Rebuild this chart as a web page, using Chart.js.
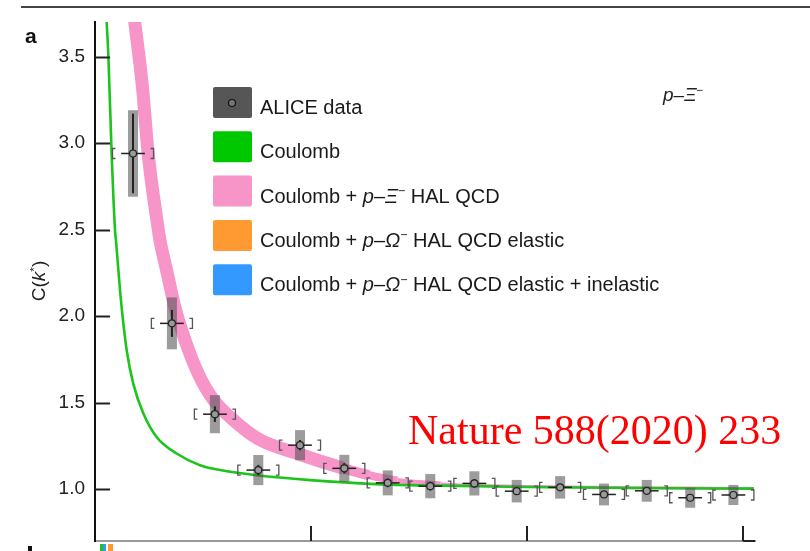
<!DOCTYPE html>
<html>
<head>
<meta charset="utf-8">
<script src="https://cdn.jsdelivr.net/npm/chart.js@4.4.0/dist/chart.umd.min.js"></script>
<style>
  html, body { margin: 0; padding: 0; background: #fff; }
  #wrap { width: 810px; height: 551px; position: relative; }
</style>
</head>
<body>
<div id="wrap"><canvas id="cf" width="810" height="551"></canvas></div>
<script>
// p-Xi- correlation function C(k*), k* in MeV/c
const kStar   = [17.6, 35.6, 55.5, 75.6, 94.9, 115.4, 135.5, 155.2, 175.6, 195.2, 215.3, 235.6, 255.4, 275.5, 295.5];
const cData   = [2.94, 1.958, 1.433, 1.11, 1.254, 1.12, 1.036, 1.017, 1.033, 0.988, 1.01, 0.969, 0.99, 0.95, 0.966];
const statErr = [0.23, 0.078, 0.045, 0.03, 0.03, 0.03, 0.025, 0.025, 0.025, 0.02, 0.02, 0.02, 0.02, 0.02, 0.02];
const sysErr  = [0.25, 0.15, 0.11, 0.087, 0.087, 0.078, 0.072, 0.07, 0.07, 0.065, 0.065, 0.063, 0.063, 0.058, 0.058];

// Coulomb only (green line)
const coulombK = [5.3, 6.2, 7.7, 9.3, 9.7, 11.6, 12.8, 14.7, 17.7, 22.4, 28.6, 37.8, 48.6, 57.9, 74.8, 99.5, 130, 160, 200, 250, 305];
const coulombC = [3.72, 3.50, 2.94, 2.49, 2.437, 2.148, 1.994, 1.80, 1.61, 1.437, 1.30, 1.206, 1.138, 1.11, 1.08, 1.052, 1.029, 1.02, 1.012, 1.006, 1.003];

// Coulomb + p-Xi- HAL QCD (pink band, centre)
const halK = [18.2, 22, 24.6, 28.7, 30.1, 33.5, 37, 41.7, 47.8, 54.6, 64, 75.6, 95, 115, 127, 140, 160, 200, 250, 305];
const halC = [3.72, 3.32, 2.94, 2.55, 2.437, 2.245, 2.05, 1.86, 1.667, 1.52, 1.40, 1.29, 1.20, 1.12, 1.08, 1.05, 1.03, 1.015, 1.008, 1.004];

const yTicks = [1.0, 1.5, 2.0, 2.5, 3.0, 3.5];
const xTicks = [100, 200, 300];

const FONT = '"Liberation Sans", Arial, Helvetica, sans-serif';
const GREEN = '#1cc41c';
const PINK = '#f794c8';
const ORANGE = '#ff9a33';
const BLUE = '#3399ff';

const legendItems = [
  { color: '#565656', marker: true, runs: [{ t: 'ALICE data' }] },
  { color: '#00c800', runs: [{ t: 'Coulomb' }] },
  { color: PINK, runs: [{ t: 'Coulomb + ' }, { t: 'p', i: 1 }, { t: '–' }, { t: 'Ξ', i: 1 }, { t: '−', s: 1 }, { t: ' HAL QCD' }] },
  { color: ORANGE, runs: [{ t: 'Coulomb + ' }, { t: 'p', i: 1 }, { t: '–' }, { t: 'Ω', i: 1 }, { t: '−', s: 1 }, { t: ' HAL QCD elastic' }] },
  { color: BLUE, runs: [{ t: 'Coulomb + ' }, { t: 'p', i: 1 }, { t: '–' }, { t: 'Ω', i: 1 }, { t: '−', s: 1 }, { t: ' HAL QCD elastic + inelastic' }] }
];

function drawRuns(ctx, runs, x, y, size) {
  runs.forEach(r => {
    const sz = r.s ? size * 0.62 : size;
    ctx.font = (r.i ? 'italic ' : '') + sz + 'px ' + FONT;
    ctx.fillText(r.t, x, r.s ? y - size * 0.38 : y);
    x += ctx.measureText(r.t).width;
  });
  return x;
}

// error boxes, brackets and bars under the data markers
const errorBars = {
  id: 'errorBars',
  beforeDatasetDraw(chart, args) {
    if (args.index !== 2) return;
    const { ctx, scales: { x, y } } = chart;
    ctx.save();
    kStar.forEach((k, i) => {
      const px = x.getPixelForValue(k);
      const py = y.getPixelForValue(cData[i]);
      // systematic box
      ctx.fillStyle = 'rgba(85,85,85,0.58)';
      const t = y.getPixelForValue(cData[i] + sysErr[i]);
      const b = y.getPixelForValue(cData[i] - sysErr[i]);
      ctx.fillRect(px - 5, t, 10, b - t);
      // brackets
      ctx.strokeStyle = '#555';
      ctx.lineWidth = 1.3;
      const bl = x.getPixelForValue(k - 9.5), br = x.getPixelForValue(k + 9.5);
      ctx.beginPath();
      ctx.moveTo(bl + 3, py - 5); ctx.lineTo(bl, py - 5); ctx.lineTo(bl, py + 5); ctx.lineTo(bl + 3, py + 5);
      ctx.moveTo(br - 3, py - 5); ctx.lineTo(br, py - 5); ctx.lineTo(br, py + 5); ctx.lineTo(br - 3, py + 5);
      ctx.stroke();
      // horizontal bar
      ctx.strokeStyle = '#222';
      ctx.lineWidth = 1.5;
      ctx.beginPath();
      ctx.moveTo(x.getPixelForValue(k - 5.5), py);
      ctx.lineTo(x.getPixelForValue(k + 5.5), py);
      ctx.stroke();
      // statistical bar
      ctx.lineWidth = 2;
      ctx.beginPath();
      ctx.moveTo(px, y.getPixelForValue(cData[i] + statErr[i]));
      ctx.lineTo(px, y.getPixelForValue(cData[i] - statErr[i]));
      ctx.stroke();
    });
    ctx.restore();
  }
};

const decorations = {
  id: 'decorations',
  afterDraw(chart) {
    const { ctx, chartArea: ca, scales: { x, y } } = chart;
    ctx.save();
    // inward ticks
    ctx.strokeStyle = '#222';
    ctx.lineWidth = 2;
    ctx.beginPath();
    yTicks.forEach(v => {
      const py = Math.round(y.getPixelForValue(v)) + 0.5;
      ctx.moveTo(ca.left, py); ctx.lineTo(ca.left + 15, py);
    });
    xTicks.forEach(v => {
      const px = Math.round(x.getPixelForValue(v));
      ctx.moveTo(px, ca.bottom); ctx.lineTo(px, ca.bottom - 15);
    });
    ctx.moveTo(x.getPixelForValue(300), ca.bottom); ctx.lineTo(ca.right, ca.bottom);
    ctx.stroke();

    // frame line at top and panel letter
    ctx.strokeStyle = '#444';
    ctx.lineWidth = 2;
    ctx.beginPath(); ctx.moveTo(21, 7); ctx.lineTo(810, 7); ctx.stroke();
    ctx.fillStyle = '#111';
    ctx.font = 'bold 21px ' + FONT;
    ctx.textBaseline = 'alphabetic';
    ctx.fillText('a', 25, 43);
    ctx.fillRect(28, 546, 4, 5);

    // bits of next panel peeking in
    ctx.fillStyle = GREEN; ctx.fillRect(100, 544, 3, 7);
    ctx.fillStyle = BLUE; ctx.fillRect(103, 544, 3, 7);
    ctx.fillStyle = ORANGE; ctx.fillRect(108, 544, 5, 7);

    // y title
    ctx.save();
    ctx.translate(45, 281);
    ctx.rotate(-Math.PI / 2);
    ctx.fillStyle = '#222';
    const tw = [['C(', 0], ['k', 1], ['*', 2], [')', 0]];
    let w = 0;
    tw.forEach(([t, s]) => {
      ctx.font = (s === 1 ? 'italic ' : '') + (s === 2 ? 11.8 : 19) + 'px ' + FONT;
      w += ctx.measureText(t).width;
    });
    drawRuns(ctx, [{ t: 'C(' }, { t: 'k', i: 1 }, { t: '*', s: 1 }, { t: ')' }], -w / 2, 0, 19);
    ctx.restore();

    // legend
    legendItems.forEach((it, i) => {
      const top = 87 + i * 44.3;
      ctx.fillStyle = it.color;
      ctx.beginPath();
      ctx.roundRect(213, top, 39, 31, 2);
      ctx.fill();
      if (it.marker) {
        ctx.beginPath();
        ctx.arc(232, top + 16, 3.5, 0, Math.PI * 2);
        ctx.fillStyle = '#777';
        ctx.fill();
        ctx.strokeStyle = '#111';
        ctx.lineWidth = 1.2;
        ctx.stroke();
      }
      ctx.fillStyle = '#1a1a1a';
      drawRuns(ctx, it.runs, 260, top + 27, 20);
    });

    // system label
    ctx.fillStyle = '#222';
    drawRuns(ctx, [{ t: 'p', i: 1 }, { t: '–' }, { t: 'Ξ', i: 1 }, { t: '−', s: 1 }], 663, 101, 19);

    // citation
    ctx.fillStyle = '#ff0000';
    ctx.font = '42px "Liberation Serif", "Times New Roman", serif';
    ctx.fillText('Nature 588(2020) 233', 408, 444);
    ctx.restore();
  }
};

const ctx = document.getElementById('cf').getContext('2d');
new Chart(ctx, {
  type: 'scatter',
  data: {
    datasets: [
      {
        label: 'Coulomb + p-Xi HAL QCD',
        data: halK.map((k, i) => ({ x: k, y: halC[i] })),
        showLine: true,
        borderColor: PINK,
        borderWidth: 13,
        borderCapStyle: 'butt',
        borderJoinStyle: 'round',
        cubicInterpolationMode: 'monotone',
        pointRadius: 0,
        segment: {
          borderWidth: c => {
            const k = c.p0.parsed.x;
            if (k < 100) return 13;
            if (k < 130) return 13 - (k - 100) * 0.18;
            return Math.max(3, 7.6 - (k - 130) * 0.25);
          }
        },
        order: 3
      },
      {
        label: 'Coulomb',
        data: coulombK.map((k, i) => ({ x: k, y: coulombC[i] })),
        showLine: true,
        borderColor: GREEN,
        borderWidth: 2.6,
        cubicInterpolationMode: 'monotone',
        pointRadius: 0,
        order: 2
      },
      {
        label: 'ALICE data',
        data: kStar.map((k, i) => ({ x: k, y: cData[i] })),
        pointRadius: 3.5,
        pointBackgroundColor: '#9a9a9a',
        pointBorderColor: '#222',
        pointBorderWidth: 1.2,
        order: 1
      }
    ]
  },
  options: {
    responsive: false,
    animation: false,
    layout: { padding: { top: 22, right: 55, left: 0, bottom: 0 } },
    plugins: { legend: { display: false }, tooltip: { enabled: false } },
    scales: {
      x: {
        type: 'linear',
        min: 0,
        max: 305.5,
        grid: { display: false },
        border: { display: true, color: '#999', width: 2 },
        ticks: { display: false },
        afterFit: s => { s.height = 10; s.paddingLeft = 0; s.paddingRight = 0; }
      },
      y: {
        type: 'linear',
        min: 0.7,
        max: 3.7,
        grid: { display: false, drawTicks: false },
        border: { display: true, color: '#111', width: 2 },
        afterBuildTicks: s => { s.ticks = yTicks.map(v => ({ value: v })); },
        ticks: {
          padding: 10,
          color: '#222',
          font: { family: FONT, size: 19 },
          callback: v => v.toFixed(1)
        },
        afterFit: s => { s.width = 95; s.paddingTop = 0; s.paddingBottom = 0; }
      }
    }
  },
  plugins: [errorBars, decorations]
});
</script>
</body>
</html>
